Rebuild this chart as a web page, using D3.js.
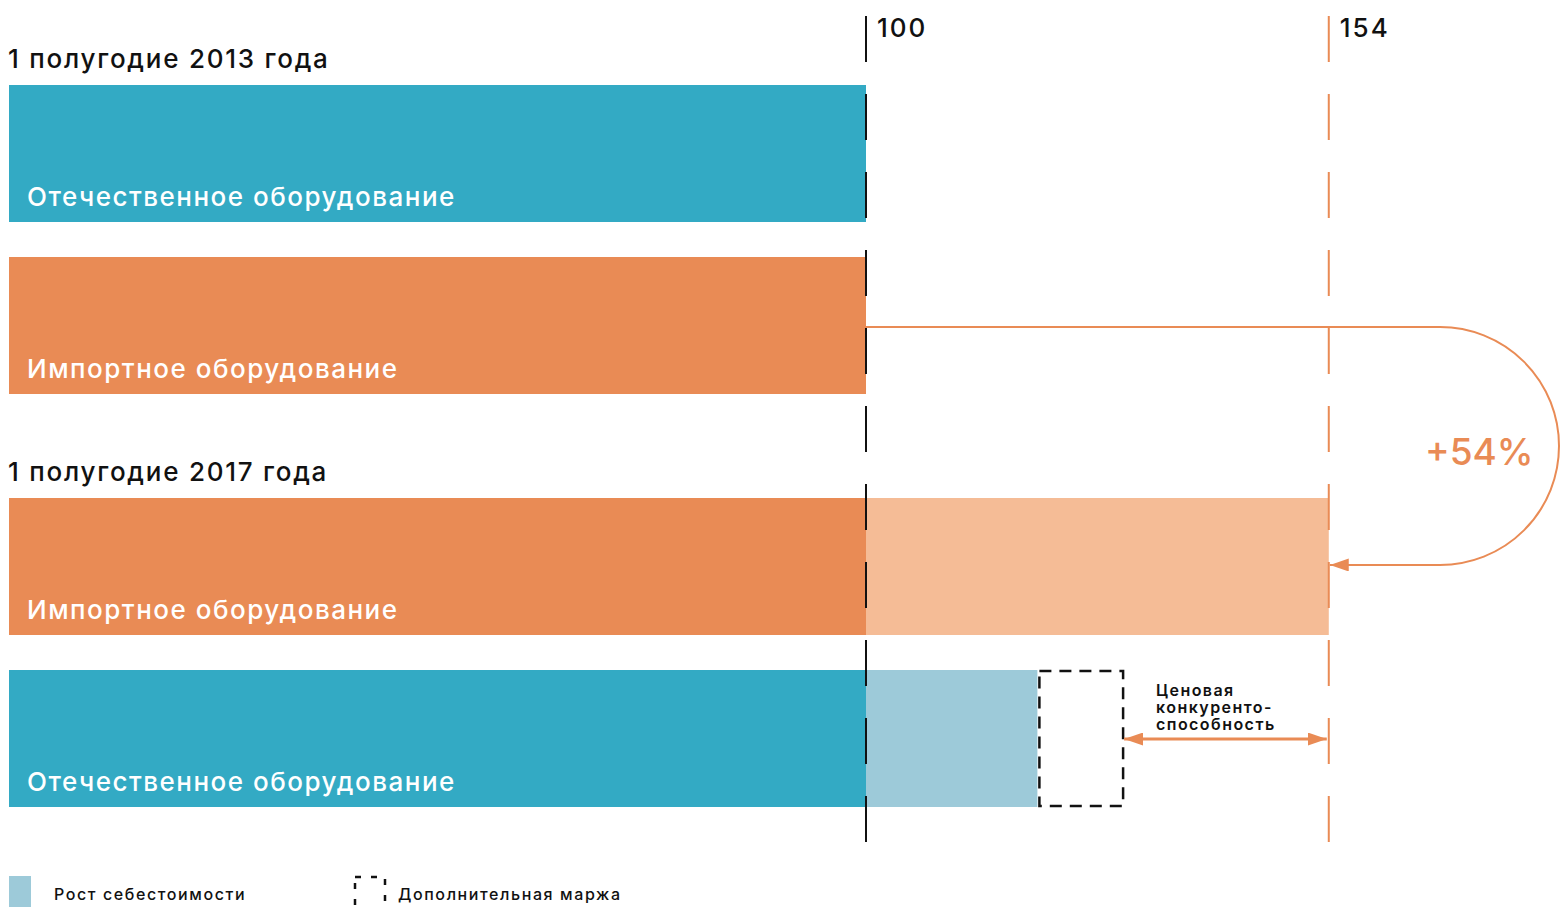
<!DOCTYPE html>
<html>
<head>
<meta charset="utf-8">
<script src="https://cdn.jsdelivr.net/npm/d3@7"></script>
<style>
  html, body { margin: 0; padding: 0; background: #fff; }
  svg { display: block; font-family: Inter, "Noto Sans", sans-serif; }
</style>
</head>
<body>
<svg id="chart" width="1562" height="907"></svg>
<script>
// Price index, 1st half of the year (domestic 2013 = 100)
const periods = ["1 полугодие 2013 года", "1 полугодие 2017 года"];
const barLabels = ["Отечественное оборудование", "Импортное оборудование", "Импортное оборудование", "Отечественное оборудование"];
const barKinds = ["domestic", "import", "import", "domestic"];
const baseValues = [100, 100, 100, 100];
const importGrowth = 154;      // import 2017 price index
const domesticCost = 120;      // domestic 2017 cost growth
const domesticMargin = 130;    // domestic 2017 with additional margin
const tickValues = [100, 154];
const growthLabel = "+54%";
const competitivenessLines = ["Ценовая", "конкуренто-", "способность"];
const legendLabels = ["Рост себестоимости", "Дополнительная маржа"];

const colors = {
  domestic: "#33aac4",
  import: "#e98b55",
  importLight: "#f5bc96",
  domesticLight: "#9dcad9",
  arrow: "#e98b55"
};

const svg = d3.select("#chart");
const x = d3.scaleLinear().domain([0, 100]).range([9, 866]);
const barTops = [85, 257, 498, 670];
const barH = 137;

// section headers
const headerY = [68, 481];
svg.selectAll("text.header").data(periods).join("text")
  .attr("class", "header")
  .attr("x", 8).attr("y", (d, i) => headerY[i])
  .attr("font-size", 26).attr("font-weight", 500).attr("fill", "#111")
  .attr("letter-spacing", 1.75)
  .text(d => d);

// base bars
svg.selectAll("rect.base").data(baseValues).join("rect")
  .attr("class", "base")
  .attr("x", x(0)).attr("y", (d, i) => barTops[i])
  .attr("width", d => x(d) - x(0)).attr("height", barH)
  .attr("fill", (d, i) => colors[barKinds[i]]);

// 2017 increments
svg.append("rect")
  .attr("x", x(100)).attr("y", barTops[2])
  .attr("width", x(importGrowth) - x(100)).attr("height", barH)
  .attr("fill", colors.importLight);
svg.append("rect")
  .attr("x", x(100)).attr("y", barTops[3])
  .attr("width", x(domesticCost) - x(100)).attr("height", barH)
  .attr("fill", colors.domesticLight);

// additional margin box
svg.append("rect")
  .attr("x", x(domesticCost) + 2).attr("y", barTops[3] + 1)
  .attr("width", x(domesticMargin) - x(domesticCost) - 2).attr("height", barH - 2)
  .attr("fill", "none").attr("stroke", "#111").attr("stroke-width", 2.5)
  .attr("stroke-dasharray", "12,8");

// bar labels
svg.selectAll("text.barlabel").data(barLabels).join("text")
  .attr("class", "barlabel")
  .attr("x", 27).attr("y", (d, i) => barTops[i] + 121)
  .attr("font-size", 26).attr("font-weight", 500).attr("fill", "#fff")
  .attr("letter-spacing", 1.5)
  .text(d => d);

// reference lines and tick labels
const tickColor = v => v === 100 ? "#111" : colors.arrow;
svg.selectAll("line.ref").data(tickValues).join("line")
  .attr("class", "ref")
  .attr("x1", d => x(d)).attr("x2", d => x(d))
  .attr("y1", 16).attr("y2", 842)
  .attr("stroke", tickColor).attr("stroke-width", 2)
  .attr("stroke-dasharray", "46,32");
svg.selectAll("text.tick").data(tickValues).join("text")
  .attr("class", "tick")
  .attr("x", d => x(d) + 11).attr("y", 37)
  .attr("font-size", 26).attr("font-weight", 500).attr("fill", "#111")
  .attr("letter-spacing", 2)
  .text(d => d);

// arrowhead marker
svg.append("defs").append("marker")
  .attr("id", "arrowHead").attr("viewBox", "0 0 19 13")
  .attr("refX", 19).attr("refY", 6.5)
  .attr("markerWidth", 19).attr("markerHeight", 13)
  .attr("markerUnits", "userSpaceOnUse")
  .attr("orient", "auto-start-reverse")
  .append("path").attr("d", "M0,0 L19,6.5 L0,13 Z").attr("fill", colors.arrow);

// growth loop arrow from 2013 import to 2017 import
const yTop = barTops[1] + 70, yBot = barTops[2] + 67;
const r = (yBot - yTop) / 2;
const cx = 1440;
const loop = d3.path();
loop.moveTo(x(100), yTop);
loop.lineTo(cx, yTop);
loop.arc(cx, yTop + r, r, -Math.PI / 2, Math.PI / 2, false);
loop.lineTo(x(importGrowth) + 1, yBot);
svg.append("path")
  .attr("d", loop.toString())
  .attr("fill", "none").attr("stroke", colors.arrow).attr("stroke-width", 2)
  .attr("marker-end", "url(#arrowHead)");

svg.append("text")
  .attr("x", 1425).attr("y", 465)
  .attr("font-size", 37).attr("font-weight", 500).attr("fill", colors.arrow)
  .text(growthLabel);

// price competitiveness double arrow
const yArrow = barTops[3] + 69;
svg.append("line")
  .attr("x1", x(domesticMargin) + 1).attr("x2", x(importGrowth) - 2)
  .attr("y1", yArrow).attr("y2", yArrow)
  .attr("stroke", colors.arrow).attr("stroke-width", 3)
  .attr("marker-start", "url(#arrowHead)").attr("marker-end", "url(#arrowHead)");

svg.append("text")
  .attr("x", 1156).attr("y", 696)
  .attr("font-size", 16).attr("font-weight", 600).attr("fill", "#111")
  .attr("letter-spacing", 1.45)
  .selectAll("tspan").data(competitivenessLines).join("tspan")
  .attr("x", 1156).attr("dy", (d, i) => i === 0 ? 0 : 17)
  .text(d => d);

// legend
svg.append("rect")
  .attr("x", 9).attr("y", 876).attr("width", 22).attr("height", 31)
  .attr("fill", colors.domesticLight);
svg.append("rect")
  .attr("x", 355).attr("y", 877).attr("width", 30).attr("height", 40)
  .attr("fill", "none").attr("stroke", "#111").attr("stroke-width", 2.5)
  .attr("stroke-dasharray", "6,10");
svg.selectAll("text.legend").data(legendLabels).join("text")
  .attr("class", "legend")
  .attr("x", (d, i) => i === 0 ? 54 : 398).attr("y", 900)
  .attr("font-size", 16).attr("font-weight", 500).attr("fill", "#111")
  .attr("letter-spacing", 1.6)
  .text(d => d);
</script>
</body>
</html>
